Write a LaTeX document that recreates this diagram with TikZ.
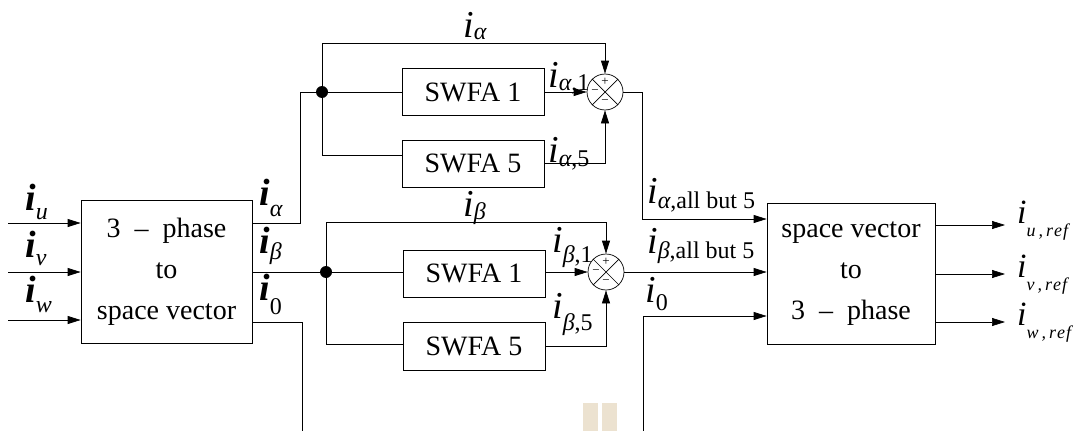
\documentclass[tikz,border=0pt]{standalone}
\usepackage{fontspec}
\setmainfont{Liberation Serif}
\usetikzlibrary{arrows.meta}
\definecolor{beige}{RGB}{236,226,208}
\newcommand{\sbs}[2]{\raisebox{-#1}{\fontsize{24}{24}\selectfont #2}}
\newcommand{\sbr}[2]{\raisebox{-#1}{\fontsize{18}{18}\selectfont #2}}
\begin{document}
\begin{tikzpicture}[x=1pt,y=-1pt,
  box/.style={draw, line width=0.7pt, inner sep=0pt, font=\fontsize{28}{41}\selectfont, align=center},
  wire/.style={line width=0.7pt},
  arr/.style={wire, -{Triangle[length=13pt,width=8pt]}},
  lab/.style={inner sep=0pt, anchor=base west, font=\fontsize{38}{38}\selectfont},
  rlab/.style={inner sep=0pt, anchor=base west, font=\fontsize{34}{34}\selectfont},
  sumc/.style={draw, circle, line width=0.7pt, minimum size=36pt, inner sep=0pt},
  dotn/.style={circle, fill, minimum size=12pt, inner sep=0pt},
  sgn/.style={inner sep=0pt, font=\fontsize{13}{13}\selectfont}]
\useasboundingbox (0,0) rectangle (1090,431);
\fill[beige] (583,403) rectangle (598,431);
\fill[beige] (602,403) rectangle (617,431);

% blocks
\node[box, minimum width=171pt, minimum height=143pt] (L) at (166.5,271.5) {3\enspace–\enspace phase\\to\\space vector};
\node[box, minimum width=168pt, minimum height=141pt] (R) at (851,273.5) {space vector\\to\\3\enspace–\enspace phase};
\node[box, minimum width=142pt, minimum height=47pt] (S1a) at (473,92) {SWFA 1};
\node[box, minimum width=142pt, minimum height=47pt] (S5a) at (473,163.5) {SWFA 5};
\node[box, minimum width=142pt, minimum height=47pt] (S1b) at (474,273.5) {SWFA 1};
\node[box, minimum width=142pt, minimum height=48pt] (S5b) at (474,346) {SWFA 5};
\node[sumc] (C1) at (605,92) {};
\node[sumc] (C2) at (606,272) {};
\node[dotn] (D1) at (322,92) {};
\node[dotn] (D2) at (326,272) {};

% summing junction marks
\foreach \c in {C1,C2}{
  \draw[wire] (\c.north west) -- (\c.south east) (\c.north east) -- (\c.south west);
  \node[sgn] (\c p) at ([yshift=10pt]\c.center) {+};
  \node[sgn] (\c l) at ([xshift=-10pt]\c.center) {−};
  \node[sgn] (\c m) at ([yshift=-10pt]\c.center) {−};
}

% inputs
\coordinate (iu) at (8,223);
\coordinate (iv) at (8,272);
\coordinate (iw) at (8,320);
\draw[arr] (iu) -- (L.west |- iu);
\draw[arr] (iv) -- (L.west |- iv);
\draw[arr] (iw) -- (L.west |- iw);

% left block outputs
\coordinate (a1) at (300,223);
\draw[wire] (L.east |- a1) -- (a1) |- (D1);
\draw[wire] (L.east |- D2) -- (D2);
\coordinate (z1) at (302,322);
\coordinate (z1e) at (302,431);
\draw[wire] (L.east |- z1) -- (z1) -- (z1e);

% alpha branch
\coordinate (t1) at (322,43);
\draw[arr] (D1) -- (t1) -| (C1.north);
\draw[wire] (D1) -- (S1a.west);
\coordinate (b1) at (322,155);
\draw[wire] (D1) -- (b1) -- (S5a.west |- b1);
\draw[arr] (S1a.east) -- (C1.west);
\draw[arr] (S5a.east) -| (C1.south);
\coordinate (r1) at (642,219);
\draw[arr] (C1.east) -| (r1) -- (R.west |- r1);

% beta branch
\coordinate (t2) at (326,222);
\draw[arr] (D2) -- (t2) -| (C2.north);
\draw[wire] (D2) -- (S1b.west |- D2);
\coordinate (b2) at (326,344);
\draw[wire] (D2) -- (b2) -- (S5b.west |- b2);
\draw[arr] (S1b.east |- C2) -- (C2.west);
\draw[arr] (S5b.east) -| (C2.south);
\draw[arr] (C2.east) -- (R.west |- C2);

% zero sequence
\coordinate (z2e) at (643,431);
\coordinate (z2) at (643,316);
\draw[arr] (z2e) -- (z2) -- (R.west |- z2);

% outputs
\coordinate (ou) at (1005,225);
\coordinate (ov) at (1005,274);
\coordinate (ow) at (1005,322);
\draw[arr] (R.east |- ou) -- (ou);
\draw[arr] (R.east |- ov) -- (ov);
\draw[arr] (R.east |- ow) -- (ow);

% labels
\node[lab] (Liu) at (25,210) {\textbf{\textit{i}}\sbs{9pt}{\textit{u}}};
\node[lab] (Liv) at (25,257) {\textbf{\textit{i}}\sbs{8pt}{\textit{v}}};
\node[lab] (Liw) at (25,302) {\textbf{\textit{i}}\sbs{10pt}{\textit{w}}};
\node[lab] (Lia) at (259,205) {\textbf{\textit{i}}\sbs{11pt}{\textit{α}}};
\node[lab] (Lib) at (259,253) {\textbf{\textit{i}}\sbs{6pt}{\textit{β}}};
\node[lab] (Li0) at (259,300) {\textbf{\textit{i}}\sbs{14pt}{0}};
\node[lab] (Tia) at (463,37) {\textit{i}\sbs{2pt}{\textit{α}}};
\node[lab] (Tib) at (463,216) {\textit{i}\sbs{3pt}{\textit{β}}};
\node[lab] (Ia1) at (548,87) {\textit{i}\sbs{3pt}{\textit{α},1}};
\node[lab] (Ia5) at (548,162) {\textit{i}\sbs{4pt}{\textit{α},5}};
\node[lab] (Ib1) at (552,252) {\textit{i}\sbs{10pt}{\textit{β},1}};
\node[lab] (Ib5) at (552,318) {\textit{i}\sbs{12pt}{\textit{β},5}};
\node[lab] (Iaa) at (647,203) {\textit{i}\sbs{5pt}{\textit{α},all but 5}};
\node[lab] (Iba) at (647,253) {\textit{i}\sbs{5pt}{\textit{β},all but 5}};
\node[lab] (Ri0) at (645,302) {\textit{i}\sbs{8pt}{0}};
\node[rlab] (Oiu) at (1017,223) {\textit{i}\sbr{13pt}{\textit{u\,,\,r\kern1pt e\kern1pt f}}};
\node[rlab] (Oiv) at (1017,277) {\textit{i}\sbr{13pt}{\textit{v\,,\,r\kern1pt e\kern1pt f}}};
\node[rlab] (Oiw) at (1017,325) {\textit{i}\sbr{13pt}{\textit{w\,,\,r\kern1pt e\kern1pt f}}};
\end{tikzpicture}
\end{document}
